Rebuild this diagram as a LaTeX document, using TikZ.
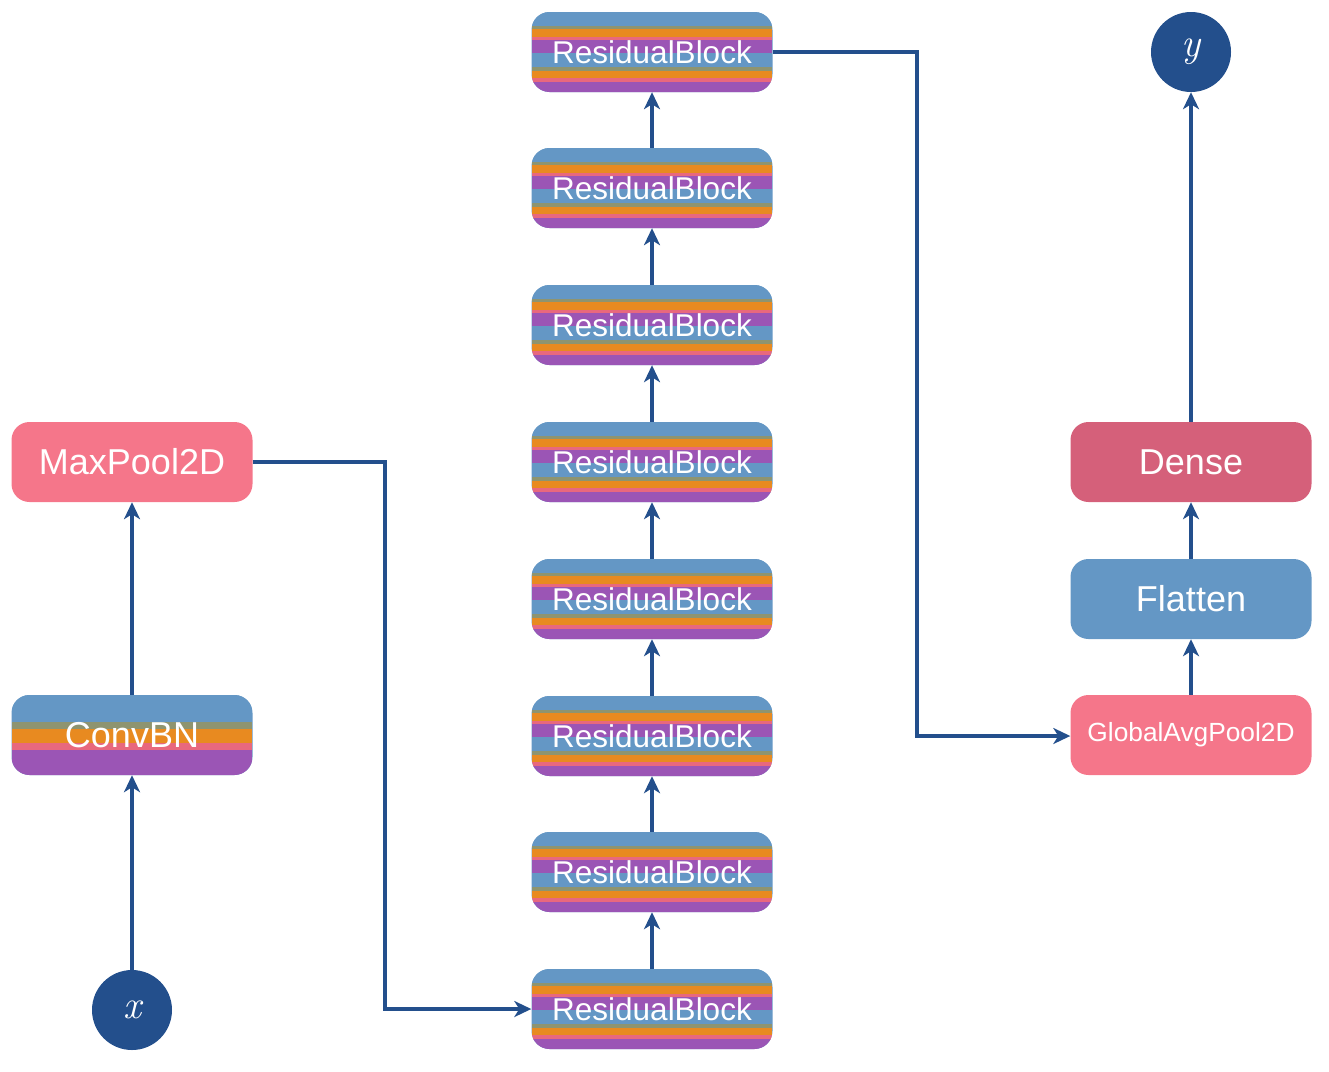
\documentclass[tikz,border=0pt]{standalone}
\usepackage{fontspec}
\setmainfont{Liberation Sans}
\newfontfamily\ioletter{Latin Modern Roman}
\usetikzlibrary{arrows.meta}
\definecolor{navy}{HTML}{234F8C}
\definecolor{pinkbox}{HTML}{F5768A}
\definecolor{densebox}{HTML}{D5607A}
\definecolor{bluebox}{HTML}{6497C5}
\definecolor{olive}{HTML}{8E9470}
\definecolor{orangeb}{HTML}{E88A20}
\definecolor{pinkb}{HTML}{E8687E}
\definecolor{purpleb}{HTML}{9B55B5}
\newcommand\myband[3]{\fill[#3, sharp corners] ([yshift=-#1pt]path picture bounding box.north west) rectangle ([yshift=-#2pt]path picture bounding box.north east);}
\newcommand\resstripes{%
  \myband{0}{14.5}{bluebox}\myband{14}{17.5}{olive}\myband{17}{25.5}{orangeb}%
  \myband{25}{28.5}{pinkb}\myband{28}{41.5}{purpleb}\myband{41}{55.5}{bluebox}%
  \myband{55}{59.5}{olive}\myband{59}{66.5}{orangeb}\myband{66}{70.5}{pinkb}%
  \myband{70}{82}{purpleb}}
\newcommand\convstripes{%
  \myband{0}{27.5}{bluebox}\myband{27}{34.5}{olive}\myband{34}{48.5}{orangeb}%
  \myband{48}{55.5}{pinkb}\myband{55}{82}{purpleb}}
\begin{document}
\begin{tikzpicture}[x=1pt,y=-1pt,
  box/.style={rounded corners=18pt, minimum width=241pt, minimum height=80pt,
    inner sep=0pt, text=white, font=\fontsize{36}{36}\selectfont},
  resblock/.style={box, fill=bluebox, font=\fontsize{31.5}{31.5}\selectfont,
    path picture={\resstripes}},
  convblock/.style={box, fill=bluebox, path picture={\convstripes}},
  pinkblock/.style={box, fill=pinkbox},
  denseblock/.style={box, fill=densebox},
  blueblock/.style={box, fill=bluebox},
  io/.style={circle, fill=navy, minimum size=80pt, inner sep=0pt, text=white,
    font=\ioletter\itshape\fontsize{40}{40}\selectfont},
  link/.style={draw=navy, line width=3.5pt, -{Stealth[length=17pt,width=16pt,inset=5pt]}}
]
\useasboundingbox (0,0) rectangle (1329,1071);
% left column
\node[io] (x) at (132,1010) {x};
\node[convblock] (conv) at (132,735) {ConvBN};
\node[pinkblock] (maxpool) at (132,462) {MaxPool2D};
% middle column
\node[resblock] (r1) at (652,1009) {ResidualBlock};
\node[resblock] (r2) at (652,872) {ResidualBlock};
\node[resblock] (r3) at (652,736) {ResidualBlock};
\node[resblock] (r4) at (652,599) {ResidualBlock};
\node[resblock] (r5) at (652,462) {ResidualBlock};
\node[resblock] (r6) at (652,325) {ResidualBlock};
\node[resblock] (r7) at (652,188) {ResidualBlock};
\node[resblock] (r8) at (652,52) {ResidualBlock};
% right column
\node[pinkblock, font=\fontsize{26.3}{26.3}\selectfont] (gap) at (1191,735) {GlobalAvgPool2D};
\node[blueblock] (flat) at (1191,599) {Flatten};
\node[denseblock] (dense) at (1191,462) {Dense};
\node[io] (y) at (1191,52) {y};
% connectors
\draw[link] (x) -- (conv);
\draw[link] (conv) -- (maxpool);
\draw[link] (maxpool.east) -- (385,462) -- (385,1009) -- (r1.west);
\draw[link] (r1) -- (r2);
\draw[link] (r2) -- (r3);
\draw[link] (r3) -- (r4);
\draw[link] (r4) -- (r5);
\draw[link] (r5) -- (r6);
\draw[link] (r6) -- (r7);
\draw[link] (r7) -- (r8);
\draw[link] (r8.east) -- (917,52) -- (917,736) -- (gap.west |- 0,736);
\draw[link] (gap) -- (flat);
\draw[link] (flat) -- (dense);
\draw[link] (dense) -- (y);
\end{tikzpicture}
\end{document}
